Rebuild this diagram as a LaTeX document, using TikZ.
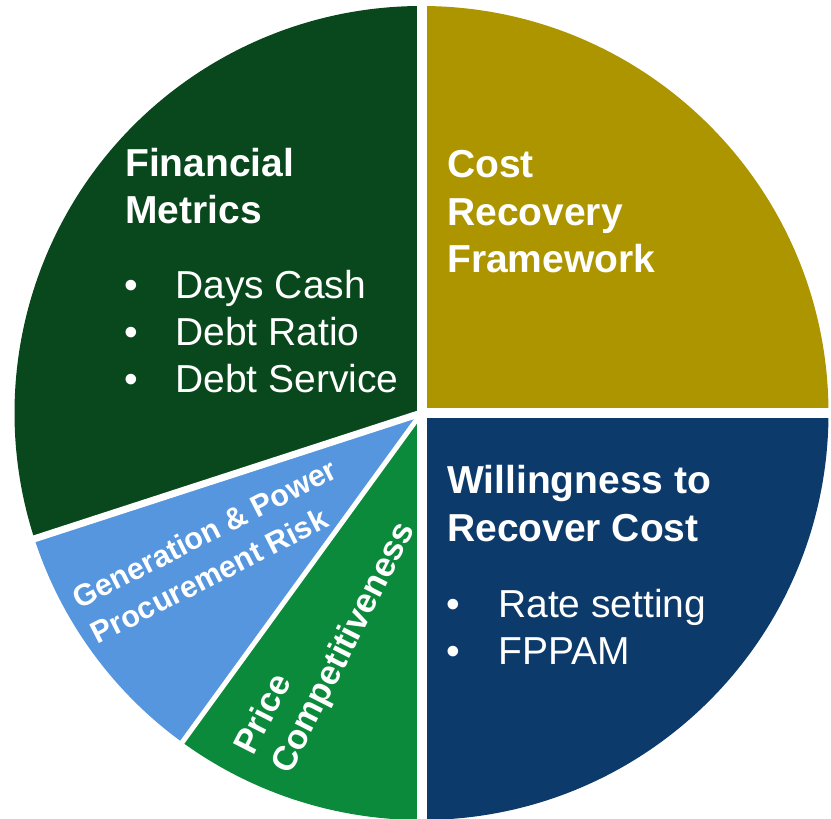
\documentclass[tikz,border=0pt]{standalone}
\usepackage{fontspec}
\setmainfont{Liberation Sans}
\definecolor{finGreen}{RGB}{8,72,28}
\definecolor{costGold}{RGB}{173,149,0}
\definecolor{willBlue}{RGB}{12,58,106}
\definecolor{genBlue}{RGB}{85,150,223}
\definecolor{priceGreen}{RGB}{10,138,58}
\begin{document}
\begin{tikzpicture}[x=1pt,y=1pt]
\tikzstyle{every node}+=[inner sep=0pt, text=white]
\tikzstyle{headtxt}=[anchor=base west, font=\fontsize{39}{47}\selectfont\bfseries]
\tikzstyle{itemtxt}=[anchor=base west, font=\fontsize{39}{47}\selectfont]
\tikzstyle{slicetxt}=[align=left, font=\bfseries]
\useasboundingbox (0,0) rectangle (831,-819);
% slices
\fill [finGreen] (421.5,-413) -- ++(90:407) arc (90:198:407) -- cycle;
\fill [genBlue] (421.5,-413) -- ++(198:407) arc (198:234:407) -- cycle;
\fill [priceGreen] (421.5,-413) -- ++(234:407) arc (234:270:407) -- cycle;
\fill [willBlue] (421.5,-413) -- ++(270:407) arc (270:360:407) -- cycle;
\fill [costGold] (421.5,-413) -- ++(0:407) arc (0:90:407) -- cycle;
% gaps
\draw [white, line width=10] (421.5,0) -- (421.5,-819);
\draw [white, line width=10] (416.5,-413) -- (831,-413);
\draw [white, line width=7] (421.5,-413) -- ++(198:420);
\draw [white, line width=5] (421.5,-413) -- ++(234:420);
% Financial Metrics
\draw (125,-176) node [headtxt] (fin1) {Financial};
\draw (125,-223) node [headtxt] (fin2) {Metrics};
\draw (124,-298) node [itemtxt] (fin3) {\makebox[51pt][l]{•}Days Cash};
\draw (124,-345) node [itemtxt] (fin4) {\makebox[51pt][l]{•}Debt Ratio};
\draw (124,-392) node [itemtxt] (fin5) {\makebox[51pt][l]{•}Debt Service};
% Cost Recovery Framework
\draw (447,-177) node [headtxt] (cost1) {Cost};
\draw (447,-225) node [headtxt] (cost2) {Recovery};
\draw (447,-272) node [headtxt] (cost3) {Framework};
% Willingness to Recover Cost
\draw (447,-493) node [headtxt] (will1) {Willingness to};
\draw (447,-541) node [headtxt] (will2) {Recover Cost};
\draw (446,-617) node [itemtxt] (will3) {\makebox[52pt][l]{•}Rate setting};
\draw (446,-664) node [itemtxt] (will4) {\makebox[52pt][l]{•}FPPAM};
% small slices
\draw (213.5,-551) node [slicetxt, rotate=27, font=\fontsize{30.5}{40}\selectfont\bfseries] (gen) {Generation \& Power\\Procurement Risk};
\draw (326.5,-639) node [slicetxt, rotate=63, font=\fontsize{34.5}{41}\selectfont\bfseries] (price) {Price\\Competitiveness};
\end{tikzpicture}
\end{document}
